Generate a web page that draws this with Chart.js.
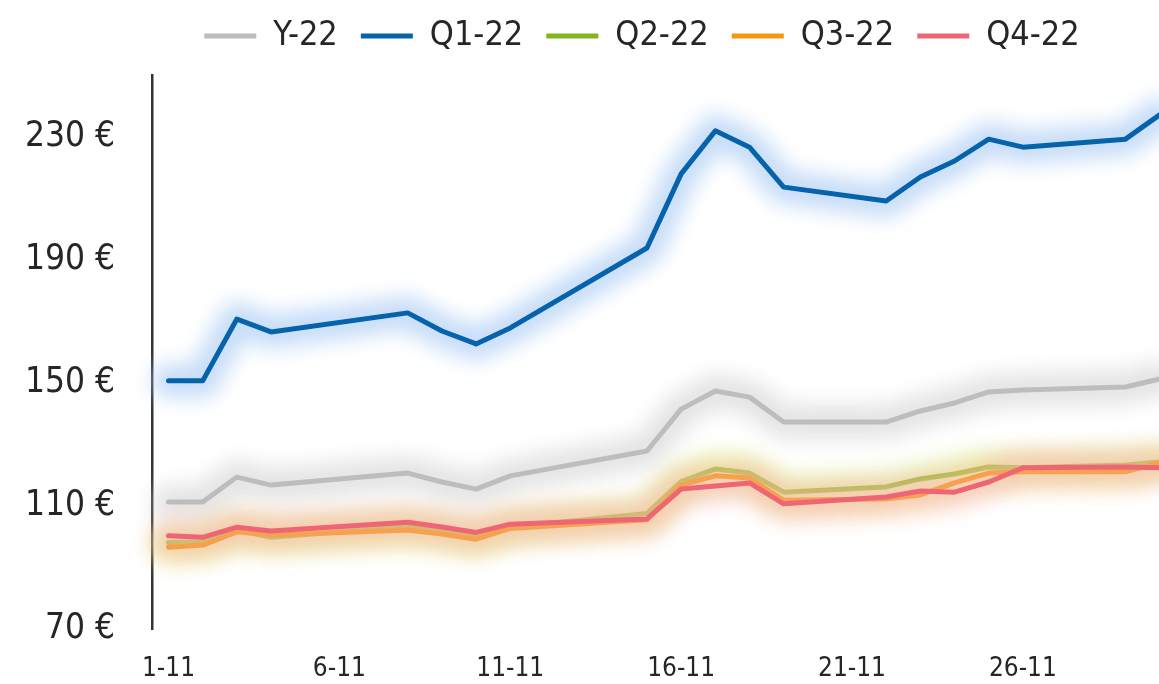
<!DOCTYPE html>
<html lang="es">
<head>
<meta charset="utf-8">
<title>Precios noviembre</title>
<script src="https://cdn.jsdelivr.net/npm/chart.js@4.4.1/dist/chart.umd.min.js"></script>
<style>
  html, body { margin: 0; padding: 0; background: #fff; overflow: hidden; }
  #wrap { width: 1284px; height: 684px; }
</style>
</head>
<body>
<div id="wrap"><canvas id="chart" width="1284" height="684"></canvas></div>
<script>
// === Datos ===
// días de noviembre; null = sin dato (la línea se une por encima)
const dias = [1,2,3,4,5,6,7,8,9,10,11,12,13,14,15,16,17,18,19,20,21,22,23,24,25,26,27,28,29,30];
const ticksX = [1, 6, 11, 16, 21, 26];
const ticksY = [70, 110, 150, 190, 230];

const series = ['Y-22', 'Q1-22', 'Q2-22', 'Q3-22', 'Q4-22'];

const y22 = [111.3,111.3,119.4,116.8,null,null,null,120.7,117.8,115.5,119.8,null,null,null,127.9,
             141.5,147.4,145.4,137.3,null,null,137.3,140.9,143.5,147.1,147.7,null,null,148.7,151.3];
const q1_22 = [150.7,150.7,170.8,166.6,null,null,null,172.8,166.9,162.7,167.9,null,null,null,193.9,
               218.0,232.0,226.7,213.7,null,null,209.2,217.0,222.2,229.3,226.7,null,null,229.3,237.2];
const q2_22 = [98.1,98.4,102.2,99.8,null,null,null,103.3,101.8,100.0,103.1,null,null,null,107.6,
               117.9,122.0,120.7,114.5,null,null,116.2,118.8,120.4,122.7,122.4,null,null,123.3,124.3];
const q3_22 = [96.6,97.3,101.6,100.6,null,null,null,102.2,100.9,99.2,102.7,null,null,null,105.5,
               116.8,119.8,119.1,111.9,null,null,112.3,113.6,117.5,120.7,121.1,null,null,121.1,124.0];
const q4_22 = [100.3,99.8,103.1,101.9,null,null,null,104.7,103.2,101.4,104.1,null,null,null,105.8,
               115.5,116.5,117.5,110.7,null,null,112.9,114.9,114.5,117.8,122.4,null,null,122.7,122.4];

// === Estilo ===
const FUENTE = "'DejaVu Sans Condensed', 'Liberation Sans Narrow', Roboto, sans-serif";
const TEXTO = '#262626';
const colores = ['#bdbdbd', '#0563ab', '#80b51c', '#f5960f', '#ee6673'];
const brillos = ['rgba(210,210,210,0.6)', 'rgba(180,210,245,0.75)', 'rgba(215,240,150,0.55)',
                 'rgba(245,205,130,0.5)', 'rgba(248,180,185,0.45)'];

// glow tipo Excel: trazo ancho y difuminado debajo de cada línea
const brillo = {
  id: 'brillo',
  beforeDatasetDraw(chart, args) {
    const ds = chart.data.datasets[args.index];
    const linea = args.meta.dataset;
    if (!linea || !ds.glow) return;
    const ctx = chart.ctx;
    const orig = linea.options;
    linea.options = Object.assign({}, orig, { borderWidth: 34, borderColor: ds.glow });
    ctx.save();
    ctx.filter = 'blur(10px)';
    linea.draw(ctx, chart.chartArea);
    ctx.restore();
    linea.options = orig;
  }
};

const valores = [y22, q1_22, q2_22, q3_22, q4_22];
const datasets = series.map((nombre, i) => ({
  label: nombre,
  data: valores[i],
  borderColor: colores[i],
  backgroundColor: colores[i],
  glow: brillos[i],
  borderWidth: 5,
  borderJoinStyle: 'round',
  borderCapStyle: 'round',
  pointRadius: 0,
  spanGaps: true,
  tension: 0,
  order: series.length - i   // Q4 encima, Y-22 debajo
}));

new Chart(document.getElementById('chart'), {
  type: 'line',
  data: { labels: dias, datasets },
  plugins: [brillo],
  options: {
    responsive: false,
    animation: false,
    layout: { padding: { top: -4, left: 0, right: 0, bottom: 0 } },
    plugins: {
      legend: {
        display: true,
        position: 'top',
        weight: 3000,
        labels: {
          usePointStyle: true,
          pointStyle: 'line',
          pointStyleWidth: 52,
          padding: 23,
          color: TEXTO,
          font: { family: FUENTE, size: 34 },
          sort: (a, b) => a.datasetIndex - b.datasetIndex
        }
      },
      // separador invisible entre leyenda y gráfico
      title: { display: true, text: ' ', font: { size: 10 }, padding: { top: 0, bottom: 0.5 } },
      tooltip: { enabled: false }
    },
    scales: {
      x: {
        type: 'linear',
        min: 0.517,
        max: 33.64,
        grid: { display: false, drawTicks: false },
        border: { display: false },
        afterBuildTicks: s => { s.ticks = ticksX.map(v => ({ value: v })); },
        afterFit: s => { s.height = 55; },
        ticks: {
          padding: 25,
          color: TEXTO,
          font: { family: FUENTE, size: 26 },
          maxRotation: 0,
          callback: v => v + '-11'
        }
      },
      y: {
        min: 70,
        max: 250,
        grid: { display: false, drawTicks: false },
        border: { display: true, color: '#333', width: 2.5 },
        afterBuildTicks: s => { s.ticks = ticksY.map(v => ({ value: v })); },
        afterFit: s => { s.width = 152; s.paddingTop = 0; s.paddingBottom = 0; },
        ticks: {
          padding: 37,
          color: TEXTO,
          font: { family: FUENTE, size: 35 },
          callback: v => v + ' €'
        }
      }
    }
  }
});
</script>
</body>
</html>
